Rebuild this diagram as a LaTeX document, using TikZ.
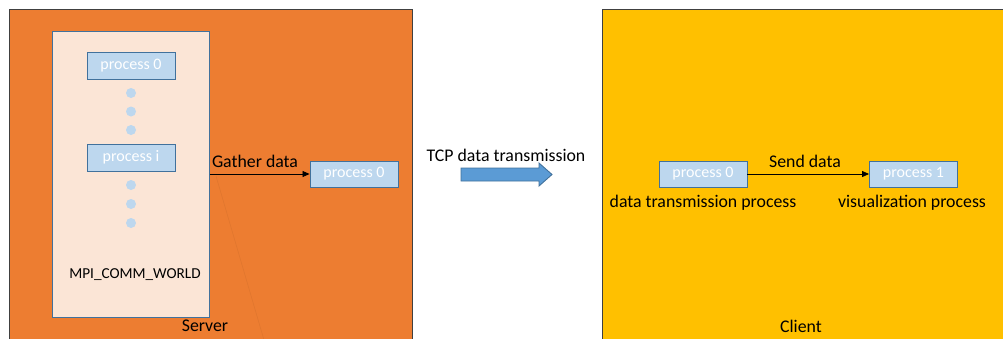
\documentclass[tikz,border=0pt]{standalone}
\usepackage{fontspec}
\setmainfont{Carlito}
\usetikzlibrary{arrows.meta}

\definecolor{srvorange}{HTML}{ED7D31}
\definecolor{cliyellow}{HTML}{FFC000}
\definecolor{commfill}{HTML}{FBE5D6}
\definecolor{procfill}{HTML}{BDD7EE}
\definecolor{procline}{HTML}{41719C}
\definecolor{bigblue}{HTML}{5B9BD5}
\definecolor{framegray}{HTML}{404040}

\tikzset{
  hostbox/.style={draw=framegray, line width=1pt, anchor=north west, inner sep=0pt},
  procbox/.style={draw=procline, fill=procfill, line width=0.9pt, text=white,
    minimum width=88pt, minimum height=27pt, inner sep=0pt,
    font=\fontsize{16}{19}\selectfont},
  procdot/.style={circle, fill=procfill, minimum size=10pt, inner sep=0pt},
  caption/.style={inner sep=0pt, font=\fontsize{17.8}{21}\selectfont},
  flow/.style={-{Triangle[length=7pt,width=6pt]}, line width=0.8pt, black},
}

\begin{document}
\begin{tikzpicture}[x=1pt,y=-1pt]
  \useasboundingbox (0,0) rectangle (1003,338);
  \clip (0,0) rectangle (1003,338);

  % server and client hosts
  \node[hostbox, fill=srvorange, minimum width=403pt, minimum height=345pt] (server) at (9,9) {};
  \node[hostbox, fill=cliyellow, minimum width=420pt, minimum height=345pt] (client) at (602,9) {};

  % faint seam across the server area
  \coordinate (seamA) at (216,176);
  \coordinate (seamB) at (264,340);
  \draw[color=srvorange!85!black, line width=0.5pt, opacity=0.4] (seamA) -- (seamB);

  % communicator
  \node[draw=procline, fill=commfill, line width=0.9pt, anchor=north west, inner sep=0pt,
        minimum width=157pt, minimum height=286pt] (world) at (52,31) {};
  \node[inner sep=0pt, font=\fontsize{15.2}{18}\selectfont] (worldlbl) at (135,275) {MPI\_COMM\_WORLD};

  \node[procbox] (ptop) at (131,65.5) {process 0};
  \node[procdot] (d1) at (131,93) {};
  \node[procdot] (d2) at (131,111.5) {};
  \node[procdot] (d3) at (131,130) {};
  \node[procbox] (pi) at (131,157.5) {process i};
  \node[procdot] (d4) at (131,185) {};
  \node[procdot] (d5) at (131,204) {};
  \node[procdot] (d6) at (131,223) {};

  % gathering process on the server
  \node[procbox, minimum height=26pt] (proot) at (354,174) {process 0};
  \draw[flow] (proot.west -| world.east) -- (proot.west);
  \node[caption] (gather) at (255,161) {Gather data};

  \node[caption] (srvlbl) at (205,326) {Server};

  % transfer between hosts
  \node[caption] (tcp) at (506,155) {TCP data transmission};
  \draw[draw=procline, fill=bigblue, line width=0.9pt]
    (461,168) -- (539,168) -- (539,163) -- (552,174.5) -- (539,186) -- (539,181) -- (461,181) -- cycle;

  % client processes
  \node[procbox, minimum height=26pt] (cp0) at (703,174) {process 0};
  \node[procbox, minimum height=26pt] (cp1) at (913.5,174) {process 1};
  \draw[flow] (cp0.east) -- (cp1.west);
  \node[caption] (send) at (805,161) {Send data};
  \node[caption] (cp0lbl) at (703,203) {data transmission process};
  \node[caption] (cp1lbl) at (912,203) {visualization process};

  \node[caption] (clilbl) at (801,326) {Client};
\end{tikzpicture}
\end{document}
